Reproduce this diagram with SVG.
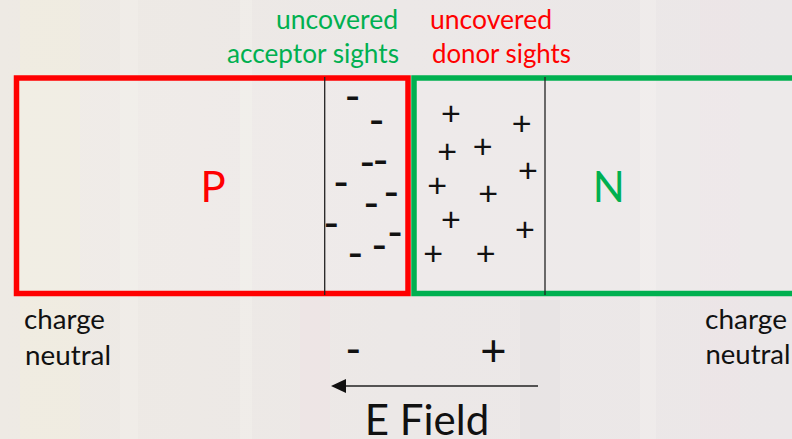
<svg xmlns="http://www.w3.org/2000/svg" width="792" height="439" viewBox="0 0 792 439">
  <defs>
    <marker id="arrowhead" markerWidth="15" markerHeight="14" refX="0" refY="7" orient="auto" markerUnits="userSpaceOnUse">
      <path d="M0,0 L15,7 L0,14 Z" fill="#111"/>
    </marker>
    <linearGradient id="bg" x1="0" y1="0" x2="1" y2="0">
      <stop offset="0" stop-color="#eeeae4"/>
      <stop offset="0.5" stop-color="#ece8e7"/>
      <stop offset="1" stop-color="#ebe7e8"/>
    </linearGradient>
    <style>
      .txt { font-family: Lato, "Open Sans", "Liberation Sans", sans-serif; }
      .lbl { font-size: 26px; }
      .sign { font-family: "Liberation Sans", Arial, sans-serif; fill: #111; text-anchor: middle; }
      .minus { font-size: 44px; }
      .plus { font-size: 34px; }
      .green { fill: #00B050; }
      .red { fill: #FF0000; }
      .black { fill: #111; }
      .sep { stroke: #222; stroke-width: 1.3; }
    </style>
  </defs>

  <!-- faded background -->
  <rect x="0" y="0" width="792" height="439" fill="url(#bg)"/>
  <g opacity="0.35">
    <rect x="20" y="0" width="60" height="439" fill="#f4f1dc"/>
    <rect x="120" y="0" width="18" height="439" fill="#f6f3ef"/>
    <rect x="240" y="0" width="12" height="439" fill="#f7f5f0"/>
    <rect x="300" y="300" width="30" height="139" fill="#f2dfe3"/>
    <rect x="520" y="300" width="40" height="139" fill="#e3dfe0"/>
    <rect x="640" y="0" width="16" height="439" fill="#f7f4f1"/>
    <rect x="700" y="0" width="40" height="439" fill="#efe3e6"/>
  </g>

  <!-- P region -->
  <g id="p-region">
    <rect x="16.5" y="78" width="391.5" height="215.5" fill="#ffffff" fill-opacity="0.12" stroke="#FF0000" stroke-width="5.5"/>
    <text class="txt red" x="213" y="201.5" font-size="42" text-anchor="middle">P</text>
  </g>

  <!-- N region -->
  <g id="n-region">
    <rect x="414" y="78" width="400" height="215.5" fill="#ffffff" fill-opacity="0.12" stroke="#00B050" stroke-width="5.5"/>
    <text class="txt green" x="608.7" y="201.5" font-size="42" text-anchor="middle">N</text>
  </g>

  <!-- depletion region, P side (uncovered acceptors) -->
  <g id="p-depletion">
    <line class="sep" x1="324.7" y1="77" x2="324.7" y2="295"/>
    <text class="sign minus" x="352.7" y="110">-</text>
    <text class="sign minus" x="376.7" y="134">-</text>
    <text class="sign minus" x="367.3" y="176.3">-</text>
    <text class="sign minus" x="380.7" y="174.3">-</text>
    <text class="sign minus" x="341" y="195.7">-</text>
    <text class="sign minus" x="391.3" y="206">-</text>
    <text class="sign minus" x="371.3" y="216.7">-</text>
    <text class="sign minus" x="331.3" y="237.3">-</text>
    <text class="sign minus" x="395" y="246.3">-</text>
    <text class="sign minus" x="379.3" y="259.3">-</text>
    <text class="sign minus" x="355.3" y="267.3">-</text>
  </g>

  <!-- depletion region, N side (uncovered donors) -->
  <g id="n-depletion">
    <line class="sep" x1="545" y1="77" x2="545" y2="295"/>
    <text class="sign plus" x="451" y="125.3">+</text>
    <text class="sign plus" x="521.7" y="134.7">+</text>
    <text class="sign plus" x="447.3" y="162.7">+</text>
    <text class="sign plus" x="482.7" y="157.7">+</text>
    <text class="sign plus" x="528" y="182">+</text>
    <text class="sign plus" x="437.3" y="197.3">+</text>
    <text class="sign plus" x="488.3" y="205">+</text>
    <text class="sign plus" x="451" y="230.7">+</text>
    <text class="sign plus" x="525" y="241.3">+</text>
    <text class="sign plus" x="433.3" y="265.3">+</text>
    <text class="sign plus" x="485.7" y="265.3">+</text>
  </g>

  <!-- labels -->
  <g id="acceptor-label">
    <text class="txt lbl green" x="276" y="29" textLength="122" lengthAdjust="spacingAndGlyphs">uncovered</text>
    <text class="txt lbl green" x="227" y="62.5" textLength="172" lengthAdjust="spacingAndGlyphs">acceptor sights</text>
  </g>
  <g id="donor-label">
    <text class="txt lbl red" x="430" y="29" textLength="122" lengthAdjust="spacingAndGlyphs">uncovered</text>
    <text class="txt lbl red" x="432" y="63" textLength="139" lengthAdjust="spacingAndGlyphs">donor sights</text>
  </g>
  <g id="neutral-left">
    <text class="txt lbl black" x="24" y="329" textLength="81" lengthAdjust="spacingAndGlyphs">charge</text>
    <text class="txt lbl black" x="25" y="365" textLength="86" lengthAdjust="spacingAndGlyphs">neutral</text>
  </g>
  <g id="neutral-right">
    <text class="txt lbl black" x="705" y="328.5" textLength="82" lengthAdjust="spacingAndGlyphs">charge</text>
    <text class="txt lbl black" x="705.5" y="364" textLength="85" lengthAdjust="spacingAndGlyphs">neutral</text>
  </g>

  <!-- field polarity signs -->
  <g id="field-signs">
    <text class="sign minus" x="353.3" y="362.7">-</text>
    <text class="sign" font-size="45" x="493.3" y="366">+</text>
  </g>

  <!-- connectors -->
  <g id="connectors">
    <line x1="538" y1="386" x2="346" y2="386" stroke="#222" stroke-width="1.6" marker-end="url(#arrowhead)"/>
  </g>

  <g id="e-field-label">
    <text class="txt black" font-size="42" x="427" y="434.5" text-anchor="middle">E Field</text>
  </g>
</svg>
